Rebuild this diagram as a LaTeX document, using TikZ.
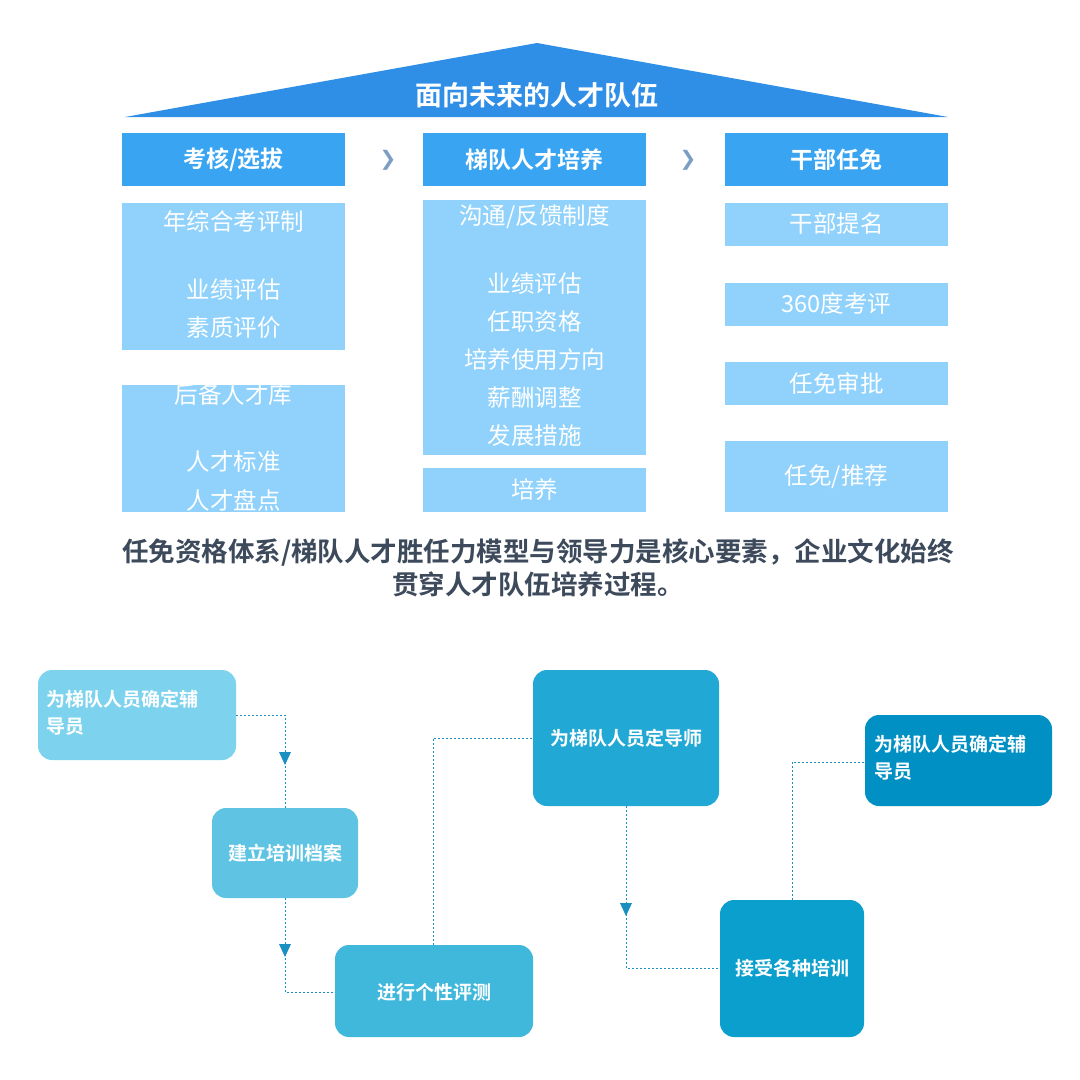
\documentclass[tikz,border=0pt]{standalone}
\usepackage{fontspec}
\setmainfont{Noto Sans CJK SC}
\newfontfamily\cjkb{Noto Sans CJK SC Bold}
\newfontfamily\dvs{DejaVu Sans}
\begin{document}
\begin{tikzpicture}[x=1pt,y=-1pt,
  hdr/.style={text=white,font=\cjkb\fontsize{23}{26}\selectfont,inner sep=0},
  tx/.style={text=white,font=\fontsize{23.5}{26}\selectfont,inner sep=0},
  fl/.style={rounded corners=14pt,inner sep=0},
  ft/.style={text=white,font=\cjkb\fontsize{19}{27}\selectfont,inner sep=0,align=left},
  con/.style={draw=lnc,dashed,dash pattern=on 2pt off 2pt,line width=0.8pt},
  ar/.style={fill=lnc,draw=none}]
\definecolor{hdrc}{HTML}{38A4F2}
\definecolor{ltc}{HTML}{90D2FB}
\definecolor{roof}{HTML}{2F8EE6}
\definecolor{lnc}{HTML}{1A8FC0}
\definecolor{cap}{HTML}{3D4A5C}
\definecolor{chev}{HTML}{7C9EC4}
\useasboundingbox (0,0) rectangle (1080,1080);
\fill[white] (0,0) rectangle (1080,1080);
% roof
\fill[roof] (125,117) -- (537,43) -- (948,117) -- cycle;
\node[text=white,font=\cjkb\fontsize{27}{30}\selectfont] (title) at (537,95) {面向未来的人才队伍};
% headers
\fill[hdrc] (122,133) rectangle (345,186); \node[hdr] (h1) at (233.5,160) {考核/选拔};
\fill[hdrc] (423,133) rectangle (646,186); \node[hdr] (h2) at (534.5,160) {梯队人才培养};
\fill[hdrc] (725,133) rectangle (948,186); \node[hdr] (h3) at (836.5,160) {干部任免};
\node[text=chev,font=\dvs\bfseries\fontsize{20}{24}\selectfont] (c1) at (388,160) {❯};
\node[text=chev,font=\dvs\bfseries\fontsize{20}{24}\selectfont] (c2) at (688,160) {❯};
% col1
\fill[ltc] (122,203) rectangle (345,350);
\node[tx] (a1) at (233.5,222) {年综合考评制};
\node[tx] (a2) at (233.5,290) {业绩评估};
\node[tx] (a3) at (233.5,328) {素质评价};
\fill[ltc] (122,385) rectangle (345,512);
\node[tx] (a4) at (233.5,395) {后备人才库};
\node[tx] (a5) at (233.5,462) {人才标准};
\node[tx] (a6) at (233.5,500) {人才盘点};
% col2
\fill[ltc] (423,200) rectangle (646,455);
\node[tx] (b1) at (534.5,217) {沟通/反馈制度};
\node[tx] (b2) at (534.5,284) {业绩评估};
\node[tx] (b3) at (534.5,322) {任职资格};
\node[tx] (b4) at (534.5,360) {培养使用方向};
\node[tx] (b5) at (534.5,398) {薪酬调整};
\node[tx] (b6) at (534.5,436) {发展措施};
\fill[ltc] (423,468) rectangle (646,512);
\node[tx] (b7) at (534.5,490) {培养};
% col3
\fill[ltc] (725,203) rectangle (948,246); \node[tx] (d1) at (836.5,224) {干部提名};
\fill[ltc] (725,283) rectangle (948,326); \node[tx] (d2) at (836.5,304) {360度考评};
\fill[ltc] (725,362) rectangle (948,405); \node[tx] (d3) at (836.5,383) {任免审批};
\fill[ltc] (725,441) rectangle (948,512); \node[tx] (d4) at (836.5,477) {任免/推荐};
% caption
\node[text=cap,font=\cjkb\fontsize{26.5}{33}\selectfont,align=center] (capt) at (538,568) {任免资格体系/梯队人才胜任力模型与领导力是核心要素，企业文化始终\\贯穿人才队伍培养过程。};
% flow boxes
\fill[fl,fill={rgb,255:red,125;green,211;blue,238}] (38,670) rectangle (236,760);
\node[ft,anchor=north west] (f1) at (46,690) {为梯队人员确定辅\\导员};
\fill[fl,fill={rgb,255:red,95;green,196;blue,228}] (212,808) rectangle (358,898);
\node[ft] (f2) at (285,853) {建立培训档案};
\fill[fl,fill={rgb,255:red,64;green,184;blue,220}] (335,945) rectangle (533,1037);
\node[ft] (f3) at (434,992) {进行个性评测};
\fill[fl,fill={rgb,255:red,34;green,168;blue,212}] (533,670) rectangle (719,806);
\node[ft] (f4) at (626,738) {为梯队人员定导师};
\fill[fl,fill={rgb,255:red,10;green,159;blue,204}] (720,900) rectangle (864,1037);
\node[ft] (f5) at (792,968) {接受各种培训};
\fill[fl,fill={rgb,255:red,0;green,144;blue,196}] (865,715) rectangle (1052,806);
\node[ft,anchor=north west] (f6) at (874,735) {为梯队人员确定辅\\导员};
% connectors
\coordinate (p1) at (236,715); \coordinate (p1b) at (285,715); \coordinate (p1c) at (285,808);
\draw[con] (p1) -- (p1b) -- (p1c);
\fill[ar] (279,752) -- (291,752) -- (285,765) -- cycle;
\coordinate (p2) at (285,898); \coordinate (p2b) at (285,992); \coordinate (p2c) at (335,992);
\draw[con] (p2) -- (p2b) -- (p2c);
\fill[ar] (279,944) -- (291,944) -- (285,957) -- cycle;
\coordinate (p3) at (433,945); \coordinate (p3b) at (433,738); \coordinate (p3c) at (533,738);
\draw[con] (p3) -- (p3b) -- (p3c);
\coordinate (p4) at (626,806); \coordinate (p4b) at (626,968); \coordinate (p4c) at (720,968);
\draw[con] (p4) -- (p4b) -- (p4c);
\fill[ar] (620,903) -- (632,903) -- (626,916) -- cycle;
\coordinate (p5) at (792,900); \coordinate (p5b) at (792,762); \coordinate (p5c) at (865,762);
\draw[con] (p5) -- (p5b) -- (p5c);
\end{tikzpicture}
\end{document}
